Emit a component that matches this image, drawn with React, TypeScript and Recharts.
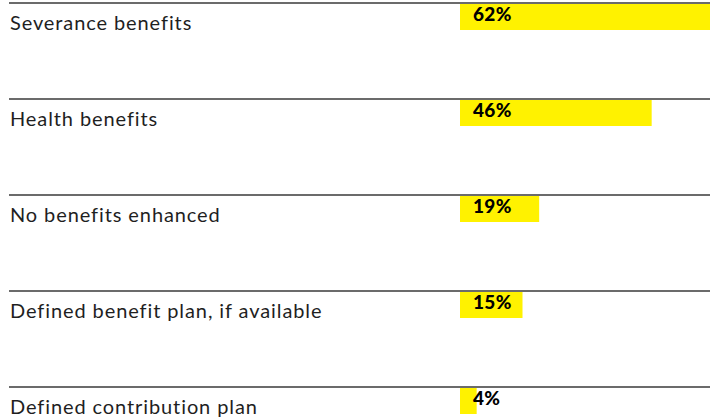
import { BarChart, Bar, XAxis, YAxis, LabelList } from "recharts";

const categories = [
  "Severance benefits",
  "Health benefits",
  "No benefits enhanced",
  "Defined benefit plan, if available",
  "Defined contribution plan",
];
const shares = [62, 46, 19, 15, 4];

const data = categories.map((name, i) => ({ name, value: shares[i] }));

const ROW = 96;
const BAR = 26;
const YELLOW = "#FFF200";

// bars sit at the top of each row, just under the rule
const topOf = (y: number, h: number) => y + h / 2 - ROW / 2 + 1;

function RowTick(props: any) {
  const { y, payload } = props;
  const top = y - ROW / 2;
  return (
    <g>
      <line x1={9} x2={710} y1={top} y2={top} stroke="#3a3a3a" strokeWidth={1.3} />
      <text
        x={10}
        y={top + 27}
        fill="#1f1f1f"
        fontSize={20}
        letterSpacing={0.9}
        fontFamily="Lato"
        textAnchor="start"
      >
        {payload.value}
      </text>
    </g>
  );
}

function TopBar(props: any) {
  const { x, y, width, height, fill } = props;
  return <rect x={x} y={topOf(y, height)} width={width} height={height} fill={fill} />;
}

function ValueLabel(props: any) {
  const { x, y, height, value } = props;
  return (
    <text
      x={x + 13}
      y={topOf(y, height) + 17}
      fontSize={19}
      fontWeight={900}
      letterSpacing={0.3}
      fontFamily="Lato"
      fill="#000"
    >
      {value}%
    </text>
  );
}

export default function App() {
  return (
    <div style={{ position: "absolute", left: 0, top: 0, width: 710, height: 417, overflow: "hidden", background: "#fff" }}>
      <BarChart
        width={710}
        height={483}
        data={data}
        layout="vertical"
        margin={{ top: 3, right: 0, bottom: 0, left: 9 }}
      >
        <XAxis type="number" domain={[0, 60]} allowDataOverflow hide />
        <YAxis
          type="category"
          dataKey="name"
          width={451}
          axisLine={false}
          tickLine={false}
          tick={<RowTick />}
        />
        <Bar dataKey="value" fill={YELLOW} barSize={BAR} shape={<TopBar />} isAnimationActive={false}>
          <LabelList dataKey="value" content={<ValueLabel />} />
        </Bar>
      </BarChart>
    </div>
  );
}
